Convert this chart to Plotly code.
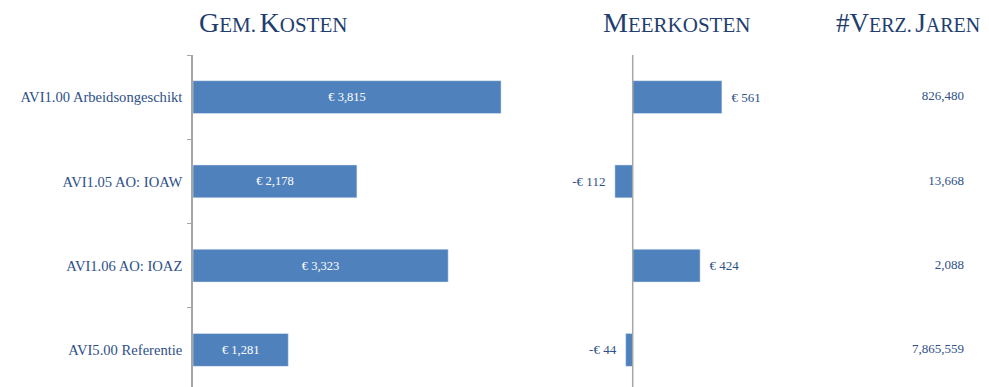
import plotly.graph_objects as go

categories = ["AVI1.00 Arbeidsongeschikt", "AVI1.05 AO: IOAW", "AVI1.06 AO: IOAZ", "AVI5.00 Referentie"]
# bar lengths as drawn in the picture (the printed labels do not scale exactly with them)
gem_kosten = [3815, 2030, 3160, 1180]
gem_kosten_labels = ["€ 3,815", "€ 2,178", "€ 3,323", "€ 1,281"]
meerkosten = [561, -112, 424, -44]
verz_jaren = [826480, 13668, 2088, 7865559]

BAR = "#4F81BD"
TXT = "#2E5088"
TITLE = "#1F3E6E"
FONT = "Liberation Serif"
OFF = 8  # default body margin of the html page
W, H = 989 - OFF, 387 - OFF
TOP = 55 - OFF
NB = "\u00a0"


def px(x):
    # page pixel -> paper fraction
    return (x - OFF) / W


def eur(v):
    return f"-€ {abs(v):,}" if v < 0 else f"€ {v:,}"


def smallcaps(s, big=28, small=21):
    # fake small caps: first letter of each word big, the rest smaller uppercase
    out = []
    for word in s.split(" "):
        i = next(k for k, c in enumerate(word) if c.isalpha())
        head = word[:i + 1].upper()
        out.append(f"<span style='font-size:{big}px'>{head}</span>"
                   f"<span style='font-size:{small}px'>{word[i + 1:].upper()}</span>")
    return " ".join(out)


fig = go.Figure()

fig.add_trace(go.Bar(
    y=categories, x=gem_kosten, orientation="h", marker_color=BAR,
    width=0.39, text=gem_kosten_labels, textposition="inside",
    insidetextanchor="middle", textfont=dict(color="white", size=12.5, family=FONT),
    xaxis="x", yaxis="y", showlegend=False, hoverinfo="skip",
))

fig.add_trace(go.Bar(
    y=categories, x=meerkosten, orientation="h", marker_color=BAR,
    width=0.39,
    text=[eur(v) + NB * 2 if v < 0 else NB * 2 + eur(v) for v in meerkosten],
    textposition="outside", constraintext="none", cliponaxis=False,
    textfont=dict(color=TXT, size=13, family=FONT),
    xaxis="x2", yaxis="y2", showlegend=False, hoverinfo="skip",
))

fig.add_trace(go.Scatter(
    y=categories, x=[1] * len(categories), mode="text",
    text=[f"{v:,}" for v in verz_jaren], textposition="middle left",
    textfont=dict(color=TXT, size=13, family=FONT), cliponaxis=False,
    xaxis="x3", yaxis="y3", showlegend=False, hoverinfo="skip",
))

ycommon = dict(
    type="category", categoryorder="array", categoryarray=categories,
    range=[3.44, -0.5], showgrid=False, zeroline=False, fixedrange=True,
    automargin=False,
)

fig.update_layout(
    width=W, height=H,
    margin=dict(l=0, r=0, t=TOP, b=0, autoexpand=False),
    paper_bgcolor="white", plot_bgcolor="white",
    font=dict(family=FONT, color=TXT, size=14),
    xaxis=dict(domain=[px(193), px(516)], range=[0, 4000], visible=False, automargin=False),
    xaxis2=dict(domain=[px(585), px(744)], range=[-300, 700], visible=False, automargin=False),
    xaxis3=dict(domain=[px(880), px(964)], range=[0, 1], visible=False, automargin=False),
    yaxis=dict(**ycommon, anchor="x", showline=True, linecolor="#A6A6A6", linewidth=1.5,
               ticks="outside", tickson="boundaries", ticklen=4, tickcolor="#A6A6A6",
               tickfont=dict(size=14.6, color=TXT, family=FONT), ticklabelstandoff=6),
    yaxis2=dict(**ycommon, anchor="x2", showline=False, showticklabels=False),
    yaxis3=dict(**ycommon, anchor="x3", showline=False, showticklabels=False),
    shapes=[dict(type="line", xref="x2", yref="paper", x0=0, x1=0, y0=0, y1=1,
                 line=dict(color="#A6A6A6", width=1.5))],
)

# titles sit ~23px below the top edge of the page
title_y = (H - (23 - OFF)) / (H - TOP)
for text, xc, big, small in [("Gem. Kosten", 273, 28, 21), ("Meerkosten", 676, 28, 21),
                             ("#Verz. Jaren", 908, 27, 20)]:
    fig.add_annotation(text=smallcaps(text, big, small), x=px(xc), y=title_y,
                       xref="paper", yref="paper", xanchor="center", yanchor="middle",
                       showarrow=False, font=dict(color=TITLE, family=FONT))

fig.write_html("out.html")
